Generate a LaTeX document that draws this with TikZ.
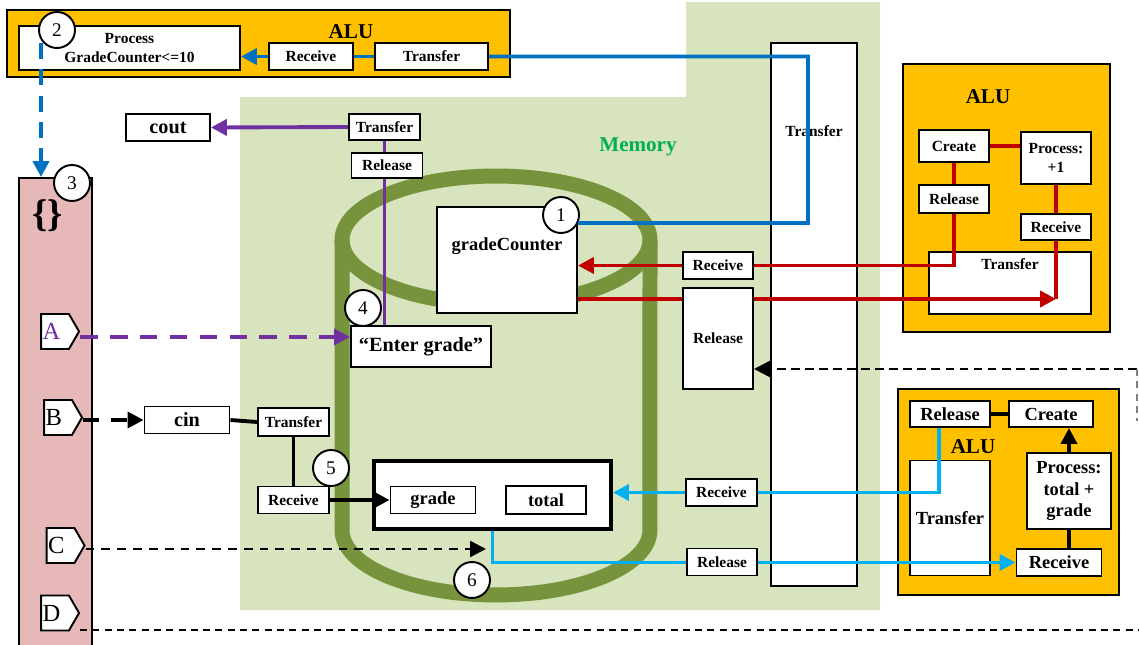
\documentclass[tikz,border=0pt]{standalone}
\usepackage{fontspec}
\setmainfont{Liberation Serif}
\usetikzlibrary{calc,arrows.meta,shapes.symbols}
\definecolor{aluorange}{HTML}{FFC000}
\definecolor{membg}{HTML}{D7E4BD}
\definecolor{memgreen}{HTML}{00B050}
\definecolor{olive}{HTML}{77933C}
\definecolor{pinkbar}{HTML}{E6B9B8}
\definecolor{blueA}{HTML}{0070C0}
\definecolor{cyanA}{HTML}{00B0F0}
\definecolor{redA}{HTML}{C00000}
\definecolor{purpleA}{HTML}{7030A0}

\begin{document}
\begin{tikzpicture}[x=0.02cm,y=-0.02cm,
  sz/.style 2 args={minimum width=#1*0.02cm,minimum height=#2*0.02cm},
  box/.style={draw,fill=white,line width=1.1pt,inner sep=0pt,align=center,font=\bfseries\fontsize{8.8}{10.8}\selectfont},
  midbox/.style={box,font=\bfseries\fontsize{10.5}{12.4}\selectfont},
  bigbox/.style={box,font=\bfseries\fontsize{11.5}{14}\selectfont},
  txt/.style={font=\bfseries\fontsize{8.8}{10.8}\selectfont},
  alu/.style={draw,fill=aluorange,line width=1.3pt},
  title/.style={font=\bfseries\fontsize{12}{14}\selectfont},
  num/.style={circle,draw,fill=white,line width=1.1pt,inner sep=0pt,minimum size=0.72cm,font=\fontsize{11}{11}\selectfont},
  tag/.style={signal,signal to=east,signal pointer angle=120,draw,fill=white,line width=1.1pt,inner sep=0pt,sz={38}{35},text width=0.5cm,font=\fontsize{14}{14}\selectfont},
  conn/.style={line width=2.2pt},
  tip/.style={-{Triangle[length=9pt,width=9pt]}}]
\useasboundingbox (0,0) rectangle (1139,645);

% memory area and pink block
\fill[membg] (240,97) -- (686,97) -- (686,2) -- (880,2) -- (880,610) -- (240,610) -- cycle;
\node[title,text=memgreen] (mem) at (638,147) {Memory};
\node[draw,fill=pinkbar,line width=1.1pt,sz={73}{484}] (bar) at (55.5,420) {};
\node[font=\bfseries\fontsize{22}{22}\selectfont] (brace) at (48,216) {\{\}};

% cylinder
\draw[olive,line width=0.3cm] (496,240) ellipse [x radius=3.08cm, y radius=1.28cm];
\draw[olive,line width=0.3cm] (342,240) -- (342,530) arc[start angle=180, end angle=360, x radius=3.08cm, y radius=1.3cm] -- (650,240);

% ALUs
\node[alu,sz={503}{67}] (alu1) at (258.5,43.5) {};
\node[title] at (351,32) {ALU};
\node[alu,sz={207}{268}] (alu2) at (1006.5,198) {};
\node[title] at (988,97) {ALU};
\node[alu,sz={221}{206}] (alu3) at (1008.5,492) {};
\node[title] at (973,447) {ALU};

\node[box,sz={221}{44}] (proc1) at (129.5,48) {Process\\GradeCounter<=10};
\node[box,sz={84}{27}] (rcv1) at (311,56.5) {Receive};
\node[box,sz={113}{27}] (tra1) at (431.5,56.5) {Transfer};

\node[box,sz={70}{32}] (cre1) at (954,146) {Create};
\node[box,sz={70}{52}] (pro1) at (1056,158) {Process:\\+1};
\node[box,sz={70}{28}] (rel4) at (954,199) {Release};
\node[box,sz={70}{26}] (rcv6) at (1056,227) {Receive};
\node[box,sz={162}{62}] (tra4) at (1010,283) {};
\node[txt] at (1010,264) {Transfer};

\node[midbox,sz={80}{26}] (rel6) at (950,414) {Release};
\node[midbox,sz={84}{26}] (cre2) at (1051,414) {Create};
\node[midbox,sz={80}{115}] (tra5) at (950,518) {Transfer};
\node[midbox,sz={84}{76}] (pro2) at (1069,491) {Process:\\total +\\grade};
\node[midbox,sz={85}{27}] (rcv7) at (1059,562.5) {Receive};

% memory
\node[box,sz={86}{543}] (tra6) at (814,314.5) {};
\node[txt] at (814,131) {Transfer};
\node[box,sz={140}{106}] (gc) at (507,260) {};
\node[midbox,draw=none] at (507,246) {gradeCounter};
\node[box,sz={70}{27}] (rcv4) at (718,265.5) {Receive};
\node[box,sz={71}{27}] (rcv5) at (721.5,492.5) {Receive};
\node[box,sz={71}{26}] (tra2) at (384.5,127) {Transfer};
\node[bigbox,sz={84}{27}] (cout) at (168,127.5) {cout};
\node[bigbox,sz={140}{41}] (enter) at (421,346.5) {``Enter grade''};
\node[bigbox,sz={85}{27}] (cin) at (187,420) {cin};
\node[box,sz={71}{28}] (tra3) at (293.5,422) {Transfer};
\node[box,sz={71}{27}] (rcv3) at (293.5,500) {Receive};
\node[box,line width=2.4pt,sz={237}{68}] (frame) at (492.5,495) {};
\node[midbox,sz={85}{27}] (grade) at (433,500) {grade};
\node[midbox,sz={80}{28}] (total) at (546,500) {total};

\node[tag,text=purpleA] (tagA) at (55,331.5) {A};
\node[tag] (tagB) at (58,417.5) {B};
\node[tag] (tagC) at (60.5,545.5) {C};
\node[tag] (tagD) at (55,613) {D};

\node[num] (num1) at (561,215) {1};
\node[num] (num2) at (57,30) {2};
\node[num] (num3) at (72,183) {3};
\node[num] (num4) at (363,308) {4};
\node[num] (num5) at (331,468) {5};
\node[num] (num6) at (472,580) {6};

% lines behind the release boxes
\coordinate (rj) at (1056,299);
\draw[conn,purpleA] (tra2.south) -- (tra2.south |- enter.north);
\draw[conn,redA,tip] ($(gc.east)+(0,39)$) -- (rj);
\draw[conn,cyanA,tip] (frame.south) |- (rcv7.west);
\node[box,sz={71}{25}] (rel2) at (387,165.5) {Release};
\node[box,sz={70}{101}] (rel3) at (718,338.5) {Release};
\node[box,sz={70}{27}] (rel5) at (722,562) {Release};

% blue
\coordinate (d2) at (41,43);
\draw[conn,blueA,tip] (rcv1.west) -- (rcv1.west -| proc1.east);
\draw[conn,blueA] (rcv1.east) -- (tra1.west);
\draw[conn,blueA] (tra1.east) -| (808,223) -- (num1.-25);
\draw[conn,blueA,dash pattern=on 9pt off 6pt,tip] (d2) -- (d2 |- bar.north);

% red
\draw[conn,redA,tip] (rcv4.west) -- (rcv4.west -| gc.east);
\draw[conn,redA] (rel4.south) |- (rcv4.east);
\draw[conn,redA] (cre1.east) -- (cre1.east -| pro1.west);
\draw[conn,redA] (cre1.south) -- (rel4.north);
\draw[conn,redA] (pro1.south) -- (rcv6.north);
\draw[conn,redA] (rcv6.south) -- (rj);

% purple
\coordinate (a4) at (350,337);
\draw[conn,purpleA,tip] (tra2.west) -- (cout.east);
\draw[conn,purpleA,dash pattern=on 10pt off 7pt,tip] (tagA.east |- a4) -- (a4);

% cyan
\draw[conn,cyanA] ($(rel6.south)+(-11,0)$) |- (rcv5.east);
\draw[conn,cyanA,tip] (rcv5.west) -- (rcv5.west -| frame.east);

% black
\coordinate (c6) at (486,549);
\coordinate (e1) at (1137,369);
\draw[conn,dash pattern=on 9pt off 7pt,tip] (tagB.east |- cin.west) -- (cin.west);
\draw[conn] (cin.east) -- (tra3.west);
\draw[conn] (tra3.south) -- (rcv3.north);
\draw[conn,tip] (rcv3.east) -- (grade.west);
\draw[line width=1.4pt,dash pattern=on 5pt off 4pt,tip] (tagC.east |- c6) -- (c6);
\draw[line width=1.3pt,dash pattern=on 4pt off 3pt] (tagD.east |- 0,630) -- (1139,630);
\draw[line width=1.4pt,dash pattern=on 5pt off 3pt,tip] (e1) -- (e1 -| rel3.east);
\draw[gray,line width=0.9pt,dash pattern=on 4pt off 3pt] (e1) -- ++(0,52);
\draw[conn] (rel6.east) -- (cre2.west);
\draw[conn,tip] (pro2.north) -- (pro2.north |- cre2.south);
\draw[conn] (pro2.south) -- (pro2.south |- rcv7.north);
\end{tikzpicture}
\end{document}
